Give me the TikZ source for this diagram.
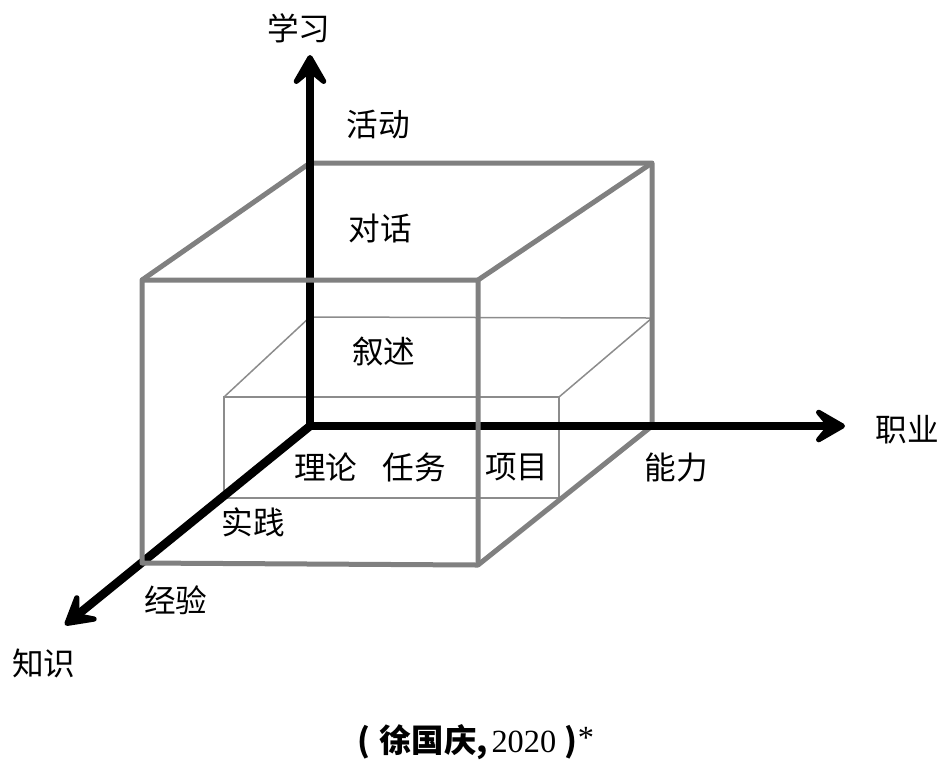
\documentclass[tikz,border=0pt]{standalone}
\usepackage{fontspec}
\setmainfont{Liberation Serif}
\newfontfamily\cjk{Noto Sans CJK SC}
\usetikzlibrary{arrows.meta}

\begin{document}
\begin{tikzpicture}[x=0.1mm, y=-0.1mm,
    edge/.style={draw=black!50, line width=0.5mm, line join=round},
    thin/.style={draw=black!45, line width=0.15mm},
    axis/.style={line width=0.85mm, -{Stealth[length=4mm, width=4.6mm, inset=1.9mm, round]}},
    word/.style={font=\cjk\fontsize{9}{10}\selectfont, inner sep=0pt}
]
    \useasboundingbox (0,0) rectangle (945,760);

    % Axes end points
    \coordinate (O) at (310,426);
    \coordinate (xend) at (845,426);
    \coordinate (yend) at (310,55);
    \coordinate (zend) at (65,625);

    % Outer cube
    \coordinate (btl) at (310,163);
    \coordinate (btr) at (652,163);
    \coordinate (bbr) at (652,426);
    \coordinate (ftl) at (142,280);
    \coordinate (ftr) at (478,280);
    \coordinate (fbr) at (478,565);
    \coordinate (fbl) at (142,563);

    % Inner box
    \coordinate (itl) at (224,397);
    \coordinate (itr) at (559,397);
    \coordinate (ibr) at (559,498);
    \coordinate (ibl) at (224,498);
    \coordinate (iktl) at (310,317);
    \coordinate (iktr) at (652,318);

    % Inner box lines
    \draw[thin] (itl) -- (itr) -- (ibr) -- (ibl) -- cycle;
    \draw[thin] (itl) -- (iktl) -- (iktr) -- (itr);

    % Hidden edges of the cube
    \draw[edge] (ftl) -- (btl) -- (btr) -- (bbr);
    \draw[edge] (ftr) -- (btr);
    \draw[edge] (fbr) -- (bbr);

    % Axes
    \draw[axis] (O) -- (xend);
    \draw[axis] (O) -- (yend);
    \draw[axis] (O) -- (zend);

    % Front face
    \draw[edge] (ftl) -- (ftr) -- (fbr) -- (fbl) -- cycle;

    % Labels
    \node[word] (learning) at (299,28) {学习};
    \node[word] (career) at (907,430) {职业};
    \node[word] (knowledge) at (44,663) {知识};
    \node[word] (activity) at (378,125) {活动};
    \node[word] (dialogue) at (380,228) {对话};
    \node[word] (narrative) at (384,352) {叙述};
    \node[word] (theory) at (326,467) {理论};
    \node[word] (task) at (414,467) {任务};
    \node[word] (project) at (517,467) {项目};
    \node[word] (ability) at (676,467) {能力};
    \node[word] (practice) at (253,522) {实践};
    \node[word] (experience) at (176,600) {经验};

    % Source
    \node[inner sep=0pt, font=\fontsize{9.2}{10}\selectfont] (source) at (476,742)
        {{\cjk\bfseries (\hspace{2.5pt}徐国庆,\hspace{1pt}}2020{\cjk\bfseries\hspace{2.5pt})}\raisebox{1pt}{*}};
\end{tikzpicture}
\end{document}
